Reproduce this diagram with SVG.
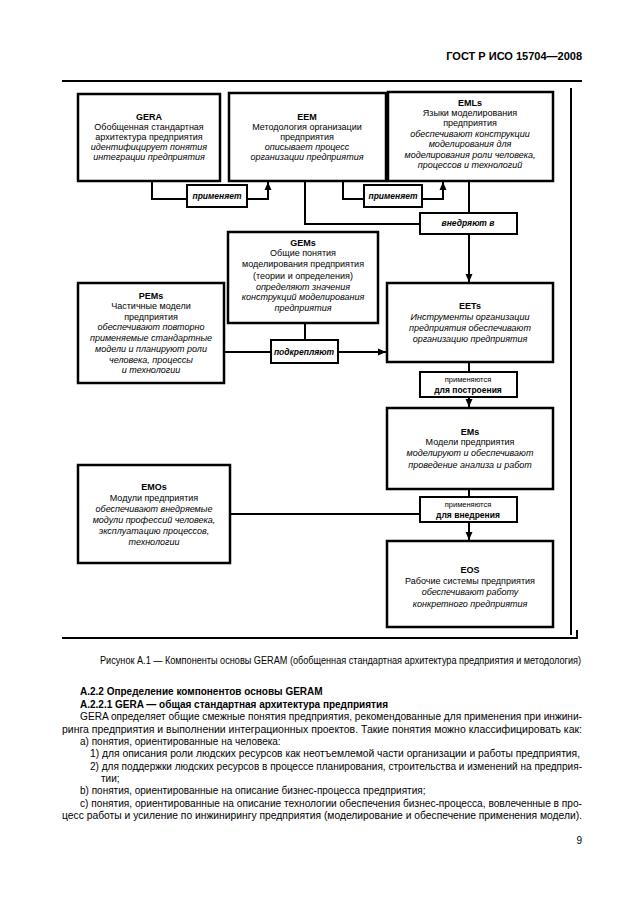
<svg xmlns="http://www.w3.org/2000/svg" width="630" height="913" viewBox="0 0 630 913">
<defs>
<marker id="ah" viewBox="0 0 8 8" refX="8" refY="4" markerWidth="8" markerHeight="8" markerUnits="userSpaceOnUse" orient="auto">
<path d="M0,0.5 L8,4 L0,7.5 Z" fill="#000"/>
</marker>
<style>
.bx{fill:#fff;stroke:#000;stroke-width:2.5}
.lb{fill:#fff;stroke:#000;stroke-width:2}
.ln{fill:none;stroke:#000;stroke-width:2}
.fr{fill:none;stroke:#000;stroke-width:2}
text{font-family:"Liberation Sans",Arial,sans-serif;fill:#000}
.t{font-size:9px;text-anchor:middle}
.h{font-weight:bold}
.i{font-style:italic}
.l{font-size:8.5px;text-anchor:middle;font-style:italic;font-weight:bold}
.s{font-size:7.5px;text-anchor:middle}
.sb{font-size:8.5px;text-anchor:middle;font-weight:bold}
.p{font-size:10px}
.pb{font-size:10px;font-weight:bold}
</style>
</defs>
<rect width="630" height="913" fill="#fff"/>

<text x="582" y="60" text-anchor="end" style="font-size:11px;font-weight:bold">ГОСТ Р ИСО 15704—2008</text>

<g id="frame">
<line class="fr" x1="62" y1="81" x2="582" y2="81"/>
<line class="fr" x1="571" y1="88" x2="571" y2="635"/>
<line class="fr" x1="62" y1="638" x2="578" y2="638"/>
<line class="fr" x1="577" y1="630" x2="577" y2="638"/>
</g>

<g id="connectors">
<polyline class="ln" points="152,181 152,199 187,199"/>
<polyline class="ln" points="247,199 268,199 268,182" marker-end="url(#ah)"/>
<polyline class="ln" points="343,181 343,199 364,199"/>
<polyline class="ln" points="422,199 443,199 443,182" marker-end="url(#ah)"/>
<polyline class="ln" points="305,181 305,224 420,224"/>
<line class="ln" x1="469" y1="181" x2="469" y2="213"/>
<line class="ln" x1="469" y1="234" x2="469" y2="282" marker-end="url(#ah)"/>
<line class="ln" x1="305" y1="323" x2="305" y2="340"/>
<line class="ln" x1="224" y1="352" x2="271" y2="352"/>
<line class="ln" x1="338" y1="352" x2="386" y2="352" marker-end="url(#ah)"/>
<line class="ln" x1="469" y1="362" x2="469" y2="372"/>
<line class="ln" x1="469" y1="397" x2="469" y2="407" marker-end="url(#ah)"/>
<line class="ln" x1="469" y1="489" x2="469" y2="497"/>
<line class="ln" x1="230" y1="514" x2="420" y2="514"/>
<line class="ln" x1="469" y1="522" x2="469" y2="540" marker-end="url(#ah)"/>
</g>

<g id="lbl-primenyaet1">
<rect class="lb" x="187" y="185" width="60" height="22"/>
<text class="l" x="217" y="199">применяет</text>
</g>
<g id="lbl-primenyaet2">
<rect class="lb" x="364" y="185" width="58" height="22"/>
<text class="l" x="393" y="199">применяет</text>
</g>
<g id="lbl-vnedryayut">
<rect class="lb" x="420" y="213" width="97" height="21"/>
<text class="l" x="468" y="226">внедряют в</text>
</g>
<g id="lbl-podkreplyayut">
<rect class="lb" x="271" y="340" width="67" height="23"/>
<text class="l" x="304" y="355">подкрепляют</text>
</g>
<g id="lbl-postroeniya">
<rect class="lb" x="420" y="372" width="97" height="25"/>
<text class="s" x="468" y="382">применяются</text>
<text class="sb" x="468" y="393">для построения</text>
</g>
<g id="lbl-vnedreniya">
<rect class="lb" x="420" y="497" width="97" height="25"/>
<text class="s" x="468" y="507">применяются</text>
<text class="sb" x="468" y="518">для внедрения</text>
</g>

<g id="GERA">
<rect class="bx" x="78" y="94" width="142" height="87"/>
<text class="t h" x="149" y="120">GERA</text>
<text class="t" x="149" y="130">Обобщенная стандартная</text>
<text class="t" x="149" y="140">архитектура предприятия</text>
<text class="t i" x="149" y="150">идентифицирует понятия</text>
<text class="t i" x="149" y="160">интеграции предприятия</text>
</g>

<g id="EEM">
<rect class="bx" x="229" y="93" width="157" height="88"/>
<text class="t h" x="307" y="120">EEM</text>
<text class="t" x="307" y="130">Методология организации</text>
<text class="t" x="307" y="140">предприятия</text>
<text class="t i" x="307" y="150">описывает процесс</text>
<text class="t i" x="307" y="160">организации предприятия</text>
</g>

<g id="EMLs">
<rect class="bx" x="388" y="92" width="165" height="89"/>
<text class="t h" x="470" y="106">EMLs</text>
<text class="t" x="470" y="116">Языки моделирования</text>
<text class="t" x="470" y="126">предприятия</text>
<text class="t i" x="470" y="137">обеспечивают конструкции</text>
<text class="t i" x="470" y="147">моделирования для</text>
<text class="t i" x="470" y="158">моделирования роли человека,</text>
<text class="t i" x="470" y="168">процессов и технологий</text>
</g>

<g id="GEMs">
<rect class="bx" x="228" y="232" width="150" height="91"/>
<text class="t h" x="303" y="246">GEMs</text>
<text class="t" x="303" y="256">Общие понятия</text>
<text class="t" x="303" y="267">моделирования предприятия</text>
<text class="t" x="303" y="279">(теории и определения)</text>
<text class="t i" x="303" y="290">определяют значения</text>
<text class="t i" x="303" y="300">конструкций моделирования</text>
<text class="t i" x="303" y="311">предприятия</text>
</g>

<g id="PEMs">
<rect class="bx" x="78" y="283" width="146" height="100"/>
<text class="t h" x="151" y="299">PEMs</text>
<text class="t" x="151" y="309">Частичные модели</text>
<text class="t" x="151" y="320">предприятия</text>
<text class="t i" x="151" y="330">обеспечивают повторно</text>
<text class="t i" x="151" y="341">применяемые стандартные</text>
<text class="t i" x="151" y="352">модели и планируют роли</text>
<text class="t i" x="151" y="363">человека, процессы</text>
<text class="t i" x="151" y="373">и технологии</text>
</g>

<g id="EETs">
<rect class="bx" x="387" y="283" width="166" height="79"/>
<text class="t h" x="470" y="309">EETs</text>
<text class="t i" x="470" y="320">Инструменты организации</text>
<text class="t i" x="470" y="331">предприятия обеспечивают</text>
<text class="t i" x="470" y="342">организацию предприятия</text>
</g>

<g id="EMs">
<rect class="bx" x="387" y="408" width="166" height="81"/>
<text class="t h" x="470" y="435">EMs</text>
<text class="t" x="470" y="445">Модели предприятия</text>
<text class="t i" x="470" y="456">моделируют и обеспечивают</text>
<text class="t i" x="470" y="468">проведение анализа и работ</text>
</g>

<g id="EMOs">
<rect class="bx" x="78" y="465" width="152" height="98"/>
<text class="t h" x="154" y="490">EMOs</text>
<text class="t" x="154" y="501">Модули предприятия</text>
<text class="t i" x="154" y="512">обеспечивают внедряемые</text>
<text class="t i" x="154" y="523">модули профессий человека,</text>
<text class="t i" x="154" y="534">эксплуатацию процессов,</text>
<text class="t i" x="154" y="545">технологии</text>
</g>

<g id="EOS">
<rect class="bx" x="387" y="541" width="166" height="86"/>
<text class="t h" x="470" y="573">EOS</text>
<text class="t" x="470" y="584">Рабочие системы предприятия</text>
<text class="t i" x="470" y="595">обеспечивают работу</text>
<text class="t i" x="470" y="607">конкретного предприятия</text>
</g>

<g id="body">
<text class="p" x="100" y="664" textLength="481" lengthAdjust="spacingAndGlyphs">Рисунок А.1 — Компоненты основы GERAM (обобщенная стандартная архитектура предприятия и методология)</text>
<text class="pb" x="80" y="695">А.2.2 Определение компонентов основы GERAM</text>
<text class="pb" x="80" y="708">А.2.2.1 GERA — общая стандартная архитектура предприятия</text>
<text class="p" x="80" y="720" textLength="502" lengthAdjust="spacingAndGlyphs">GERA определяет общие смежные понятия предприятия, рекомендованные для применения при инжини-</text>
<text class="p" x="62" y="733" textLength="520" lengthAdjust="spacingAndGlyphs">ринга предприятия и выполнении интеграционных проектов. Такие понятия можно классифицировать как:</text>
<text class="p" x="80" y="745">а) понятия, ориентированные на человека:</text>
<text class="p" x="90" y="757" textLength="490" lengthAdjust="spacingAndGlyphs">1) для описания роли людских ресурсов как неотъемлемой части организации и работы предприятия,</text>
<text class="p" x="90" y="770" textLength="492" lengthAdjust="spacingAndGlyphs">2) для поддержки людских ресурсов в процессе планирования, строительства и изменений на предприя-</text>
<text class="p" x="101" y="782">тии;</text>
<text class="p" x="80" y="794">b) понятия, ориентированные на описание бизнес-процесса предприятия;</text>
<text class="p" x="80" y="807" textLength="502" lengthAdjust="spacingAndGlyphs">с) понятия, ориентированные на описание технологии обеспечения бизнес-процесса, вовлеченные в про-</text>
<text class="p" x="62" y="819" textLength="520" lengthAdjust="spacingAndGlyphs">цесс работы и усиление по инжинирингу предприятия (моделирование и обеспечение применения модели).</text>
<text class="p" x="582" y="844" text-anchor="end">9</text>
</g>
</svg>
